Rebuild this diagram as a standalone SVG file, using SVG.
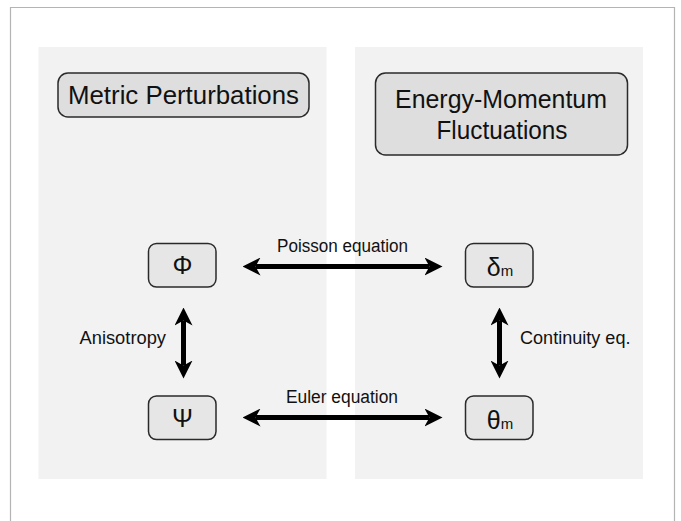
<svg xmlns="http://www.w3.org/2000/svg" width="681" height="521" viewBox="0 0 681 521">
<style>
.panel{fill:#f2f2f2}
.frame{fill:none;stroke:#b4b4b4;stroke-width:1.2}
.hdr{fill:#dedede;stroke:#2a2a2a;stroke-width:1.5}
.node{fill:#e6e6e6;stroke:#2a2a2a;stroke-width:1.5}
text{font-family:"Liberation Sans",Arial,sans-serif;fill:#111}
.h{font-size:26px;text-anchor:middle}
.sym{font-size:25px;text-anchor:middle}
.lbl{font-size:18px}
.conn{stroke:#000;stroke-width:5;fill:none;marker-start:url(#ah);marker-end:url(#ah)}
</style>
<defs>
<marker id="ah" viewBox="0 0 18 18" markerWidth="18" markerHeight="18" refX="5" refY="9" orient="auto-start-reverse" markerUnits="userSpaceOnUse">
<path d="M0,0 L18,9 L0,18 L5,9 Z" fill="#000"/>
</marker>
</defs>
<rect width="681" height="521" fill="#fff"/>
<path class="frame" d="M10.5,521 V7.5 H674.5 V521"/>
<rect class="panel" x="38.5" y="47" width="288" height="432"/>
<rect class="panel" x="355" y="47" width="288" height="432"/>

<g id="metric">
<rect class="hdr" x="58" y="73" width="251" height="44" rx="10"/>
<text class="h" x="183.5" y="104" textLength="231" lengthAdjust="spacingAndGlyphs">Metric Perturbations</text>
</g>
<g id="energy">
<rect class="hdr" x="375.5" y="73" width="252" height="82" rx="10"/>
<text class="h" x="501" y="108" textLength="212" lengthAdjust="spacingAndGlyphs">Energy-Momentum</text>
<text class="h" x="502" y="139" textLength="131" lengthAdjust="spacingAndGlyphs">Fluctuations</text>
</g>

<g id="phi">
<rect class="node" x="148.5" y="243.5" width="67.5" height="43.5" rx="8"/>
<text class="sym" x="182.5" y="274">Φ</text>
</g>
<g id="psi">
<rect class="node" x="148.5" y="396" width="67.5" height="43.5" rx="8"/>
<text class="sym" x="182.5" y="427">Ψ</text>
</g>
<g id="delta">
<rect class="node" x="465.5" y="243.5" width="67.5" height="43.5" rx="8"/>
<text x="500" y="276" text-anchor="middle"><tspan font-size="25">δ</tspan><tspan font-size="15">m</tspan></text>
</g>
<g id="theta">
<rect class="node" x="465.5" y="396" width="67.5" height="43.5" rx="8"/>
<text x="500" y="429" text-anchor="middle"><tspan font-size="25">θ</tspan><tspan font-size="15">m</tspan></text>
</g>

<g id="connectors">
<line class="conn" x1="255.5" y1="266.5" x2="429.5" y2="266.5"/>
<line class="conn" x1="255.5" y1="417.5" x2="429.5" y2="417.5"/>
<line class="conn" x1="183.5" y1="320.5" x2="183.5" y2="365.5"/>
<line class="conn" x1="499.5" y1="320.5" x2="499.5" y2="365.5"/>
<text class="lbl" x="277" y="251.5" textLength="131" lengthAdjust="spacingAndGlyphs">Poisson equation</text>
<text class="lbl" x="286" y="402.5" textLength="112" lengthAdjust="spacingAndGlyphs">Euler equation</text>
<text class="lbl" x="79.5" y="344" textLength="86.5" lengthAdjust="spacingAndGlyphs">Anisotropy</text>
<text class="lbl" x="520" y="344" textLength="110.5" lengthAdjust="spacingAndGlyphs">Continuity eq.</text>
</g>
</svg>
